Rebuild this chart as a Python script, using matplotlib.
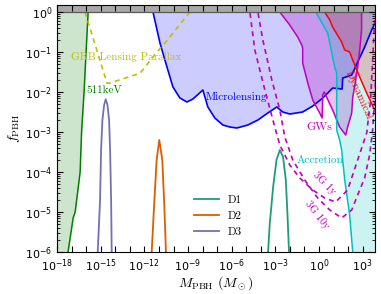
import numpy as np
import matplotlib.pyplot as plt
from matplotlib.ticker import FixedLocator, FuncFormatter, LogLocator

# all values are log10
evap_logM = [-17.30, -17.25, -16.90, -16.76, -16.42, -16.32, -16.15, -15.87]
evap_logf = [-6.2, -6.0, -5.15, -5.0, -4.0, -3.0, -2.0, 0.0]

grb_logM = [-16.08, -15.32, -14.57, -14.40, -12.30, -11.14, -10.59, -8.87]
grb_logf = [0.0, -0.9, -1.78, -1.78, -1.53, -1.0, -0.775, 0.0]

micro_logM = [-11.41, -10.93, -10.45, -10.04, -9.56, -9.08, -8.67, -7.98, -7.64,
              -7.16, -6.61, -6.13, -5.65, -4.89, -4.20, -3.52, -2.90, -2.49,
              -2.01, -1.12, -0.43, 0.26, 0.94, 1.59, 1.63, 2.25, 2.66, 3.14,
              3.62, 3.89]
micro_logf = [0.0, -0.775, -1.375, -1.875, -2.15, -2.25, -2.175, -1.95, -2.375,
              -2.65, -2.825, -2.875, -2.9, -2.825, -2.7, -2.525, -2.375, -2.5,
              -2.55, -2.5, -2.35, -2.15, -1.9, -1.925, -1.65, -1.575, -1.25,
              -0.875, -0.45, -0.25]

gw_logM = [-2.69, -2.01, -1.46, -1.18, -1.12, -1.12, -0.77, -0.43, 0.05, 0.22,
           0.26, 0.36, 0.94, 1.42, 1.84, 1.97, 2.25, 2.32, 2.45, 2.66, 2.80,
           2.93, 2.93]
gw_logf = [0.0, -0.325, -0.625, -0.825, -0.9, -1.275, -1.775, -2.2, -2.525,
           -2.65, -2.075, -2.0, -2.45, -2.875, -3.075, -2.875, -2.525, -2.125,
           -1.875, -1.375, -0.95, -0.45, 0.0]

acc_logM = [-0.22, 0.60, 1.08, 1.22, 1.22, 1.42, 1.56, 1.77, 2.11, 2.32, 2.35]
acc_logf = [0.0, -0.525, -1.375, -1.525, -2.95, -3.2, -3.45, -4.2, -5.075, -6.0, -6.2]

dyn_logM = [0.39, 0.74, 0.94, 1.56, 1.77, 2.11, 2.32, 2.80, 3.28, 3.76, 3.90]
dyn_logf = [0.0, -0.2, -0.375, -0.75, -0.95, -1.0, -1.2, -1.625, -2.025, -2.4, -2.5]

g1y_logM = [-4.85, -4.75, -4.41, -3.72, -3.04, -2.69, -2.01, -1.32, -0.43, 0.39,
            1.15, 1.97, 2.66, 3.28, 3.55, 3.69, 3.83]
g1y_logf = [0.2, 0.0, -0.95, -1.95, -2.875, -3.325, -3.825, -4.15, -4.45, -4.65,
            -4.75, -4.45, -3.7, -3.025, -2.2, -1.2, -0.2]

g10y_logM = [-4.30, -4.20, -3.86, -3.24, -2.69, -2.35, -1.80, -0.98, -0.09, 0.74,
             1.56, 2.25, 2.80, 3.14, 3.48, 3.69, 3.83, 3.96]
g10y_logf = [0.2, 0.0, -0.7, -1.7, -2.45, -3.125, -3.7, -4.2, -4.65, -4.95,
             -5.15, -4.95, -4.45, -4.15, -3.575, -2.95, -2.2, -1.2]

d1_logM = [-3.56, -3.50, -3.38, -3.15, -2.92, -2.69, -2.47, -2.28, -2.17, -2.06, -2.02]
d1_logf = [-6.3, -6.0, -5.275, -4.37, -3.7, -3.45, -3.62, -4.2, -5.025, -6.0, -6.3]
d2_logM = [-11.53, -11.50, -11.34, -11.16, -10.98, -10.77, -10.63, -10.52, -10.49]
d2_logf = [-6.3, -6.0, -4.875, -3.7, -3.2, -3.7, -4.875, -6.0, -6.3]
d3_logM = [-15.23, -15.21, -15.05, -14.98, -14.89, -14.77, -14.66, -14.54, -14.43,
           -14.36, -14.29, -14.25, -14.23]
d3_logf = [-6.3, -6.0, -4.7, -3.45, -2.7, -2.325, -2.18, -2.325, -2.7, -3.45,
           -4.7, -6.0, -6.3]

xmin, xmax = 1e-18, 7e3
ymin, ymax = 1e-6, 1.5


def p(v):
    return 10.0 ** np.array(v)


fig = plt.figure(figsize=(3.81, 2.94), dpi=100)
ax = fig.add_axes([0.150, 0.143, 0.834, 0.840])
ax.set_xscale('log')
ax.set_yscale('log')

# evaporation / 511 keV
ax.fill_betweenx(p(evap_logf), xmin / 10, p(evap_logM), color='g', alpha=0.2, lw=0)
ax.plot(p(evap_logM), p(evap_logf), color='g', lw=1.1)

# microlensing
ax.fill_between(p(micro_logM), p(micro_logf), 1.0, color='b', alpha=0.2, lw=0)
ax.plot(p(micro_logM), p(micro_logf), color='b', lw=1.2)

# GWs
ax.fill(p(gw_logM), p(gw_logf), color='m', alpha=0.25, lw=0)
ax.plot(p(gw_logM), p(gw_logf), color='m', lw=1.1)

# accretion
ax.fill_betweenx(p(acc_logf), p(acc_logM), xmax * 2, color='c', alpha=0.2, lw=0)
ax.plot(p(acc_logM), p(acc_logf), color='c', lw=1.1)

# dynamical
ax.fill_between(p(dyn_logM), p(dyn_logf), 1.0, color='r', alpha=0.2, lw=0)
ax.plot(p(dyn_logM), p(dyn_logf), color='r', lw=1.1)

# GRB lensing parallax
ax.plot(p(grb_logM), p(grb_logf), 'y--', lw=1.2, dashes=(3, 2.5))

# 3G detectors
ax.plot(p(g1y_logM), p(g1y_logf), 'm--', lw=1.2, dashes=(3, 2.5))
ax.plot(p(g10y_logM), p(g10y_logf), 'm--', lw=1.2, dashes=(3, 2.5))

# mass functions
ax.plot(p(d1_logM), p(d1_logf), color='#1b9e77', lw=1.3, label='D1')
ax.plot(p(d2_logM), p(d2_logf), color='#d95f02', lw=1.3, label='D2')
ax.plot(p(d3_logM), p(d3_logf), color='#7570b3', lw=1.3, label='D3')

# f > 1 band
ax.axhspan(1.0, ymax, color='0.66', zorder=5, lw=0)
ax.axhline(1.0, color='0.35', lw=0.9, zorder=5)

tf = dict(family='cmr10', fontsize=8)
ax.text(p(-13.26), p(-1.125), 'GRB Lensing Parallax', color='y', ha='center', va='center', **tf)
ax.text(p(-14.77), p(-1.95), '511keV', color='g', ha='center', va='center', **tf)
ax.text(p(-5.65), p(-2.125), 'Microlensing', color='b', ha='center', va='center', **tf)
ax.text(p(0.05), p(-2.875), 'GWs', color='m', ha='center', va='center', family='cmr10', fontsize=8.5)
ax.text(p(0.05), p(-3.7), 'Accretion', color='c', ha='center', va='center', **tf)
ax.text(p(2.73), p(-2.075), 'Dynamical', color='r', ha='center', va='center',
        rotation=-66, **tf)
ax.text(p(0.39), p(-4.275), '3G 1y', color='m', ha='center', va='center',
        rotation=-45, family='cmr10', fontsize=7.5)
ax.text(p(-0.16), p(-5.075), '3G 10y', color='m', ha='center', va='center',
        rotation=-52, family='cmr10', fontsize=7.5)

ax.legend(loc='upper left', bbox_to_anchor=(0.40, 0.27), frameon=False,
          prop={'family': 'cmr10', 'size': 8}, handlelength=2.2, labelspacing=0.55)

ax.set_xlim(xmin, xmax)
ax.set_ylim(ymin, ymax)

ax.xaxis.set_major_locator(FixedLocator([10.0 ** k for k in range(-18, 4)]))
ax.xaxis.set_minor_locator(FixedLocator([]))
ax.xaxis.set_major_formatter(FuncFormatter(
    lambda v, pos: r'$10^{%d}$' % round(np.log10(v)) if round(np.log10(v)) % 3 == 0 else ''))
ax.yaxis.set_major_locator(LogLocator(base=10, numticks=20))
ax.yaxis.set_minor_locator(LogLocator(base=10, subs=np.arange(2, 10), numticks=20))

ax.tick_params(which='both', direction='in', top=True, right=True, labelsize=8)
ax.tick_params(which='major', length=4, width=0.8)
ax.tick_params(which='minor', length=2, width=0.6)
ax.tick_params(axis='x', pad=4)
for s in ax.spines.values():
    s.set_zorder(6)
ax.xaxis.set_zorder(7)
ax.yaxis.set_zorder(7)

ax.set_xlabel(r'$M_{\rm PBH}\ (M_\odot)$', fontsize=10, math_fontfamily='cm', labelpad=0)
ax.set_ylabel(r'$f_{\rm PBH}$', fontsize=10, math_fontfamily='cm', labelpad=2)

fig.savefig('out.png', dpi=100)
